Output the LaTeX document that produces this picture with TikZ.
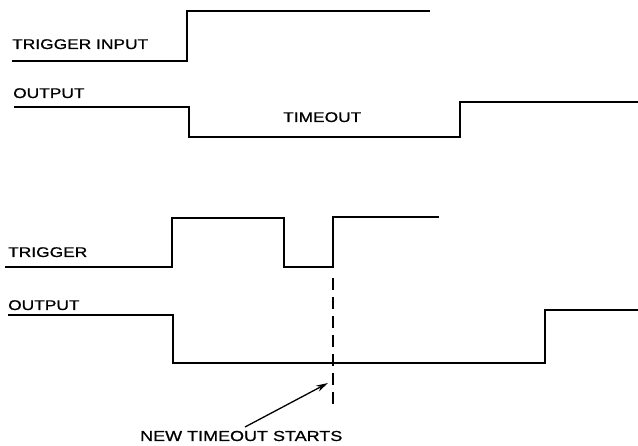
\documentclass[tikz,border=0pt]{standalone}
\usepackage{fontspec}
\setmainfont{Liberation Sans}[FakeBold=0.7]
\usetikzlibrary{arrows.meta}
\newcommand\widetext[1]{\scalebox{1.24}[1]{#1}}
\tikzset{
  wave/.style={line width=1.8pt, line join=miter},
  lbl/.style={inner sep=0pt, anchor=base west, font=\fontsize{14}{16}\selectfont},
  guide/.style={line width=1.4pt, dash pattern=on 12pt off 7pt},
  pointer/.style={line width=1.3pt, -{Stealth[length=12pt,width=6.5pt]}}
}
\begin{document}
\begin{tikzpicture}[x=1pt,y=-1pt]
\useasboundingbox (0,0) rectangle (638,446);
% ---- top: trigger input
\coordinate (ta) at (12,61);
\coordinate (tb) at (187,61);
\coordinate (tc) at (187,11);
\coordinate (td) at (430,11);
\draw[wave] (ta) -- (tb) -- (tc) -- (td);
\node[lbl] (tin) at (12,49) {\widetext{TRIGGER INPUT}};
% ---- top: output
\coordinate (oa) at (14,107);
\coordinate (ob) at (189,107);
\coordinate (oc) at (189,137);
\coordinate (od) at (460,137);
\coordinate (oe) at (460,102);
\coordinate (of) at (638,102);
\draw[wave] (oa) -- (ob) -- (oc) -- (od) -- (oe) -- (of);
\node[lbl] (tout) at (13,98) {\widetext{OUTPUT}};
\node[lbl] (tto) at (283,122) {\widetext{TIMEOUT}};
% ---- bottom: trigger
\coordinate (ba) at (5,267);
\coordinate (bb) at (172,267);
\coordinate (bc) at (172,218);
\coordinate (bd) at (284,218);
\coordinate (be) at (284,267);
\coordinate (bf) at (333,267);
\coordinate (bg) at (333,217);
\coordinate (bh) at (439,217);
\draw[wave] (ba) -- (bb) -- (bc) -- (bd) -- (be) -- (bf) -- (bg) -- (bh);
\node[lbl] (btr) at (8,257) {\widetext{TRIGGER}};
% ---- bottom: output
\coordinate (ca) at (8,315);
\coordinate (cb) at (173,315);
\coordinate (cc) at (173,363);
\coordinate (cd) at (545,363);
\coordinate (ce) at (545,310);
\coordinate (cf) at (638,310);
\draw[wave] (ca) -- (cb) -- (cc) -- (cd) -- (ce) -- (cf);
\node[lbl] (bout) at (8,310) {\widetext{OUTPUT}};
% ---- dashed marker and note
\coordinate (dtop) at (333,278);
\coordinate (dbot) at (333,411);
\draw[guide] (dtop) -- (dbot);
\node[lbl, font=\fontsize{14.5}{16}\selectfont] (note) at (140,441) {\widetext{NEW TIMEOUT STARTS}};
\coordinate (tail) at (245,427);
\coordinate (head) at (328,383);
\draw[pointer] (tail) -- (head);
\end{tikzpicture}
\end{document}
